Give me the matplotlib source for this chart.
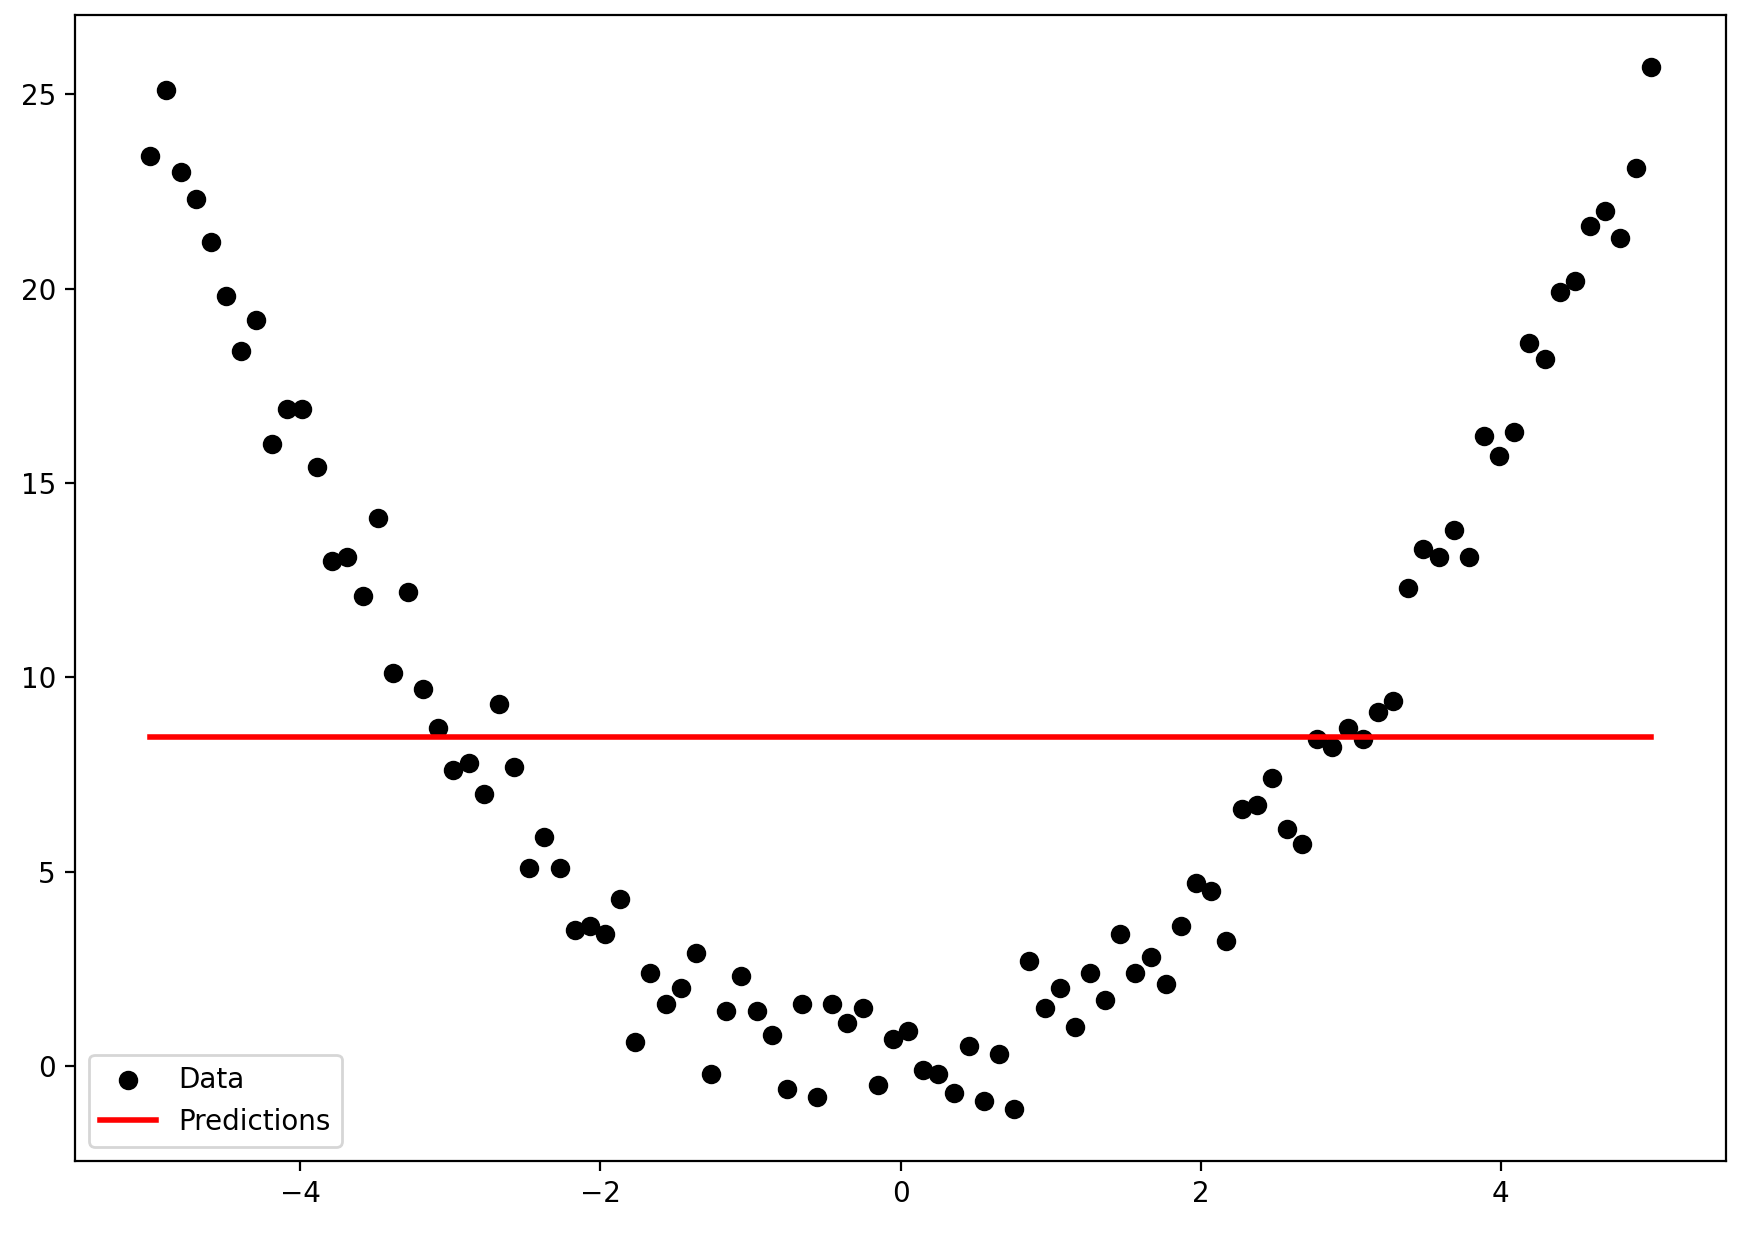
import numpy as np
import matplotlib
matplotlib.use("Agg")
import matplotlib.pyplot as plt

x = np.linspace(-5, 5, 100)
y = [23.4, 25.1, 23.0, 22.3, 21.2, 19.8, 18.4, 19.2, 16.0, 16.9,
     16.9, 15.4, 13.0, 13.1, 12.1, 14.1, 10.1, 12.2, 9.7, 8.7,
     7.6, 7.8, 7.0, 9.3, 7.7, 5.1, 5.9, 5.1, 3.5, 3.6,
     3.4, 4.3, 0.6, 2.4, 1.6, 2.0, 2.9, -0.2, 1.4, 2.3,
     1.4, 0.8, -0.6, 1.6, -0.8, 1.6, 1.1, 1.5, -0.5, 0.7,
     0.9, -0.1, -0.2, -0.7, 0.5, -0.9, 0.3, -1.1, 2.7, 1.5,
     2.0, 1.0, 2.4, 1.7, 3.4, 2.4, 2.8, 2.1, 3.6, 4.7,
     4.5, 3.2, 6.6, 6.7, 7.4, 6.1, 5.7, 8.4, 8.2, 8.7,
     8.4, 9.1, 9.4, 12.3, 13.3, 13.1, 13.8, 13.1, 16.2, 15.7,
     16.3, 18.6, 18.2, 19.9, 20.2, 21.6, 22.0, 21.3, 23.1, 25.7]
pred = [8.45] * len(x)

fig, ax = plt.subplots(figsize=(8.76, 6.24), dpi=200)
ax.scatter(x, y, color="black", label="Data")
ax.plot(x, pred, color="red", linewidth=2, label="Predictions")
ax.legend(loc="lower left")
fig.subplots_adjust(left=0.043, right=0.985, top=0.988, bottom=0.07)
fig.savefig("out.png")
